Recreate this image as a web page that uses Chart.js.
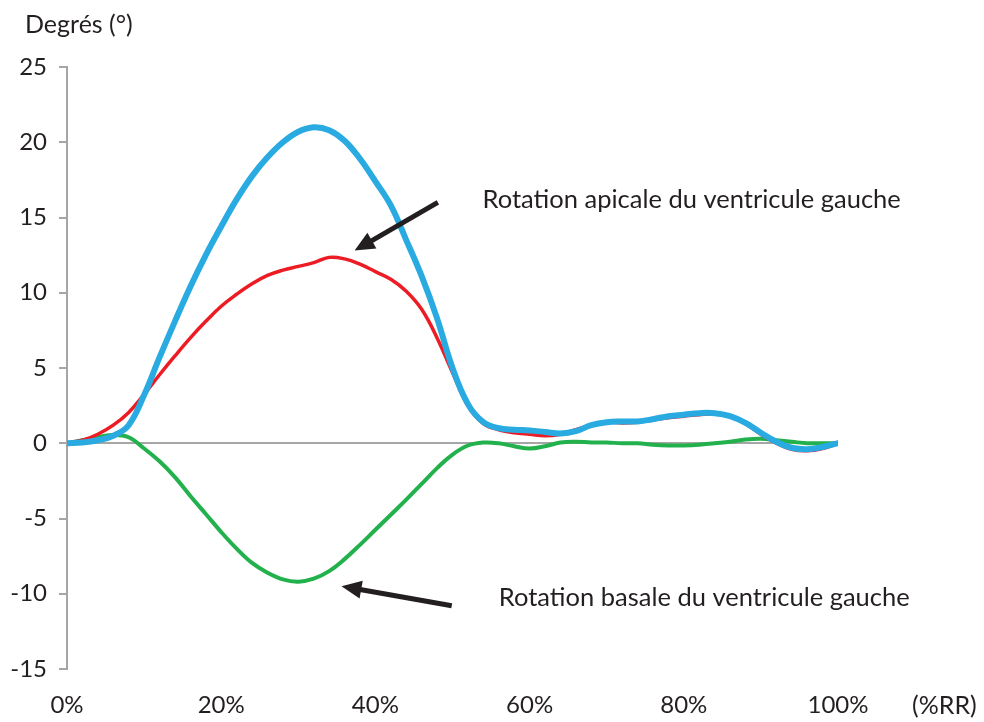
<!DOCTYPE html>
<html lang="fr">
<head>
<meta charset="utf-8">
<title>Rotation du ventricule gauche</title>
<script src="https://cdn.jsdelivr.net/npm/chart.js@4.4.1/dist/chart.umd.min.js"></script>
<style>
    html, body { margin: 0; padding: 0; background: #fff; }
    #wrap { width: 984px; height: 722px; }
</style>
</head>
<body>
<div id="wrap"><canvas id="rotChart" width="984" height="722"></canvas></div>
<script>
// % of the RR interval, one sample every 2 %
const rrPct = [0, 2, 4, 6, 8, 10, 12, 14, 16, 18, 20, 22, 24, 26, 28, 30, 32, 34, 36, 38, 40,
    42, 44, 46, 48, 50, 52, 54, 56, 58, 60, 62, 64, 66, 68, 70, 72, 74, 76, 78, 80,
    82, 84, 86, 88, 90, 92, 94, 96, 98, 100];

// Apical rotation, thick blue trace (degrees)
const apicalBlue = [0, 0.05, 0.2, 0.5, 1.2, 3.2, 5.7, 8.1, 10.4, 12.5, 14.4, 16.2, 17.75, 19.0, 20.0, 20.7, 21.0, 20.8, 20.1, 18.9, 17.4,
    15.8, 13.5, 11.1, 8.3, 5.0, 2.6, 1.4, 1.0, 0.9, 0.85, 0.75, 0.65, 0.8, 1.2, 1.4, 1.45, 1.45, 1.6, 1.8, 1.9,
    2.0, 2.0, 1.8, 1.35, 0.7, 0.1, -0.3, -0.4, -0.25, 0];

// Apical rotation, thin red trace (degrees)
const apicalRed = [0, 0.2, 0.6, 1.2, 2.05, 3.25, 4.55, 5.8, 7.0, 8.1, 9.1, 9.9, 10.6, 11.15, 11.5, 11.75, 12.0, 12.35, 12.25, 11.9, 11.4,
    10.9, 10.1, 8.9, 7.0, 4.7, 2.5, 1.3, 0.9, 0.7, 0.6, 0.5, 0.6, 0.9, 1.2, 1.4, 1.35, 1.4, 1.55, 1.7, 1.8,
    1.9, 1.95, 1.8, 1.3, 0.6, 0.0, -0.4, -0.5, -0.35, 0];

// Basal rotation, green trace (degrees)
const basalGreen = [0, 0.2, 0.4, 0.55, 0.4, -0.35, -1.2, -2.25, -3.5, -4.7, -5.9, -7.0, -7.95, -8.6, -9.05, -9.2, -9.0, -8.5, -7.7, -6.75, -5.75,
    -4.75, -3.75, -2.7, -1.65, -0.75, -0.15, 0.05, 0.0, -0.2, -0.35, -0.2, 0.05, 0.1, 0.05, 0.05, 0.0, 0.0, -0.1, -0.15, -0.15,
    -0.1, 0.0, 0.1, 0.25, 0.3, 0.2, 0.1, 0.0, 0.0, 0];

const yTicks = [-15, -10, -5, 0, 5, 10, 15, 20, 25];
const xTicks = [0, 20, 40, 60, 80, 100];

// Arrow annotations, in data space: [tailX, tailY, tipX, tipY]
const apicalArrow = [48.1, 16.0, 37.3, 12.8];
const basalArrow = [49.9, -10.8, 35.6, -9.5];

const AXIS_GREY = '#a6a6a6';
const INK = '#231f20';
const FONT = 'Lato, "Noto Sans", sans-serif';

const toPoints = (ys) => rrPct.map((x, i) => ({ x, y: ys[i] }));

// Draws the two arrows and their captions, plus the axis captions.
const annotations = {
    id: 'annotations',
    afterDatasetsDraw(chart) {
        const { ctx, scales: { x, y }, chartArea } = chart;
        ctx.save();
        [apicalArrow, basalArrow].forEach(([tx, ty, hx, hy]) => {
            arrow(ctx, x.getPixelForValue(tx), y.getPixelForValue(ty),
                x.getPixelForValue(hx), y.getPixelForValue(hy));
        });

        ctx.fillStyle = INK;
        ctx.textBaseline = 'middle';
        ctx.textAlign = 'left';
        ctx.font = '25.5px ' + FONT;
        ctx.fillText('Rotation apicale du ventricule gauche', x.getPixelForValue(53.9), y.getPixelForValue(16.2));
        ctx.fillText('Rotation basale du ventricule gauche', x.getPixelForValue(56.0), y.getPixelForValue(-10.3));

        ctx.font = '25px ' + FONT;
        ctx.fillText('Degrés (°)', 25, 25);
        ctx.fillText('(%RR)', chartArea.right + 74, 706);
        ctx.restore();
    },
};

function arrow(ctx, x0, y0, x1, y1) {
    const ang = Math.atan2(y1 - y0, x1 - x0);
    const head = 20, half = 9;
    const bx = x1 - head * Math.cos(ang), by = y1 - head * Math.sin(ang);
    ctx.strokeStyle = INK;
    ctx.fillStyle = INK;
    ctx.lineWidth = 5;
    ctx.lineCap = 'butt';
    ctx.beginPath();
    ctx.moveTo(x0, y0);
    ctx.lineTo(bx + 4 * Math.cos(ang), by + 4 * Math.sin(ang));
    ctx.stroke();
    ctx.beginPath();
    ctx.moveTo(x1, y1);
    ctx.lineTo(bx - half * Math.sin(ang), by + half * Math.cos(ang));
    ctx.lineTo(bx + half * Math.sin(ang), by - half * Math.cos(ang));
    ctx.closePath();
    ctx.fill();
}

Chart.defaults.font.family = FONT;
Chart.defaults.font.size = 24;
Chart.defaults.color = INK;

new Chart(document.getElementById('rotChart'), {
    type: 'line',
    data: {
        datasets: [
            { label: 'Apicale (bleu)', data: toPoints(apicalBlue), borderColor: '#29abe2', borderWidth: 6, order: 0 },
            { label: 'Apicale (rouge)', data: toPoints(apicalRed), borderColor: '#ed1c24', borderWidth: 3.5, order: 1 },
            { label: 'Basale', data: toPoints(basalGreen), borderColor: '#22b14c', borderWidth: 4, order: 2 },
        ],
    },
    options: {
        responsive: false,
        animation: false,
        layout: { padding: { top: 67, right: 146, left: 0, bottom: 0 } },
        elements: {
            point: { radius: 0 },
            line: { tension: 0.4, borderCapStyle: 'round', borderJoinStyle: 'round' },
        },
        scales: {
            x: {
                type: 'linear',
                min: 0,
                max: 100,
                afterBuildTicks: (scale) => { scale.ticks = xTicks.map((v) => ({ value: v })); },
                afterFit: (scale) => { scale.height = 53; },
                grid: { display: false, drawTicks: false },
                border: { display: false },
                ticks: { padding: 22, maxRotation: 0, callback: (v) => v + '%' },
            },
            y: {
                min: -15,
                max: 25,
                afterBuildTicks: (scale) => { scale.ticks = yTicks.map((v) => ({ value: v })); },
                afterFit: (scale) => { scale.width = 67; },
                grid: {
                    color: (c) => (c.tick && c.tick.value === 0 ? AXIS_GREY : 'rgba(0,0,0,0)'),
                    tickColor: AXIS_GREY,
                    lineWidth: 2,
                    tickWidth: 2,
                    tickLength: 8,
                },
                border: { color: AXIS_GREY, width: 2 },
                ticks: { padding: 12 },
            },
        },
        plugins: {
            legend: { display: false },
            tooltip: { enabled: false },
        },
    },
    plugins: [annotations],
});
</script>
</body>
</html>
